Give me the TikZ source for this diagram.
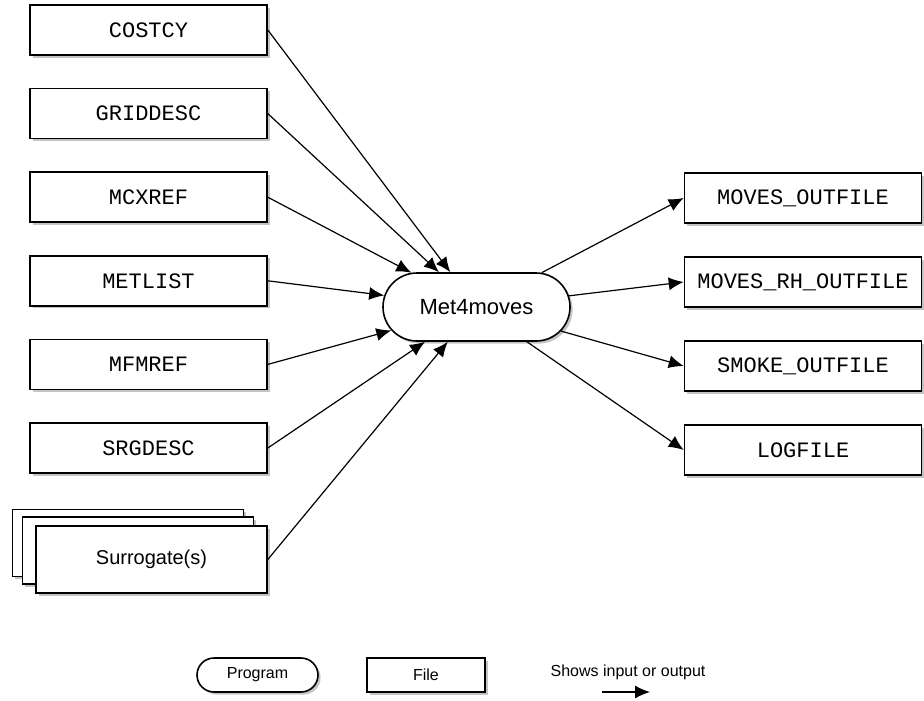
\documentclass[tikz,border=0pt]{standalone}
\usepackage{fontspec}
\setmainfont{Liberation Sans}
\setmonofont{Liberation Mono}
\usepackage{tikz}
\usetikzlibrary{arrows.meta,shapes.misc,shadows}
\usepackage{xcolor}
\definecolor{shadowgray}{RGB}{60,60,60}

\begin{document}
\begin{tikzpicture}[x=0.5pt,y=-0.5pt, >={Latex[length=7.5pt,width=6.5pt]}]
  \tikzstyle{boxshadow}=[drop shadow={shadow xshift=1.3pt, shadow yshift=-1.3pt, fill=shadowgray, opacity=0.3}]
  \tikzstyle{file}=[rectangle, draw, line width=0.8pt, fill=white, boxshadow, minimum width=118.5pt, minimum height=25pt, font=\ttfamily\fontsize{11}{13}\selectfont, inner sep=0pt]
  \tikzstyle{surr}=[file, minimum width=115.5pt, minimum height=33.5pt, font=\fontsize{10}{12}\selectfont]
  \tikzstyle{prog}=[rounded rectangle, draw, line width=0.8pt, fill=white, boxshadow, minimum width=93.5pt, minimum height=34pt, font=\fontsize{11}{13}\selectfont, inner sep=0pt]
  \tikzstyle{flow}=[->, line width=0.6pt]
  \useasboundingbox (0,0) rectangle (924,700);
  % inputs
  \node[file] (cost) at (148.5,30) {COSTCY};
  \node[file] (grid) at (148.5,113.6) {GRIDDESC};
  \node[file] (mcx) at (148.5,197.2) {MCXREF};
  \node[file] (met) at (148.5,280.8) {METLIST};
  \node[file] (mfm) at (148.5,364.4) {MFMREF};
  \node[file] (srg) at (148.5,448) {SRGDESC};
  \node[surr] (sur3) at (128,543) {};
  \node[surr] (sur2) at (138,550.5) {};
  \node[surr] (sur) at (151.5,559.5) {Surrogate(s)};
  % program
  \node[prog] (m4m) at (476.5,307) {Met4moves};
  % outputs
  \node[file] (mof) at (803,198) {MOVES\_OUTFILE};
  \node[file] (mrh) at (803,282) {MOVES\_RH\_OUTFILE};
  \node[file] (smk) at (803,366) {SMOKE\_OUTFILE};
  \node[file] (log) at (803,450) {LOGFILE};
  \draw[flow] (cost.east) -- (m4m);
  \draw[flow] (grid.east) -- (m4m);
  \draw[flow] (mcx.east) -- (m4m);
  \draw[flow] (met.east) -- (m4m);
  \draw[flow] (mfm.east) -- (m4m);
  \draw[flow] (srg.east) -- (m4m);
  \draw[flow] (sur.east) -- (m4m);
  \draw[flow] (m4m) -- (mof.west);
  \draw[flow] (m4m) -- (mrh.west);
  \draw[flow] (m4m) -- (smk.west);
  \draw[flow] (m4m) -- (log.west);
  % legend
  \node[prog, minimum width=60.5pt, minimum height=17pt, font=\fontsize{8}{10}\selectfont] (lprog) at (257.5,675) {Program};
  \node[file, minimum width=59pt, minimum height=17pt, font=\fontsize{8}{10}\selectfont] (lfile) at (426,675) {File};
  \node[font=\fontsize{8}{10}\selectfont] (lio) at (628,672) {Shows input or output};
  \coordinate (la) at (602,692);
  \coordinate (lb) at (650,692);
  \draw[flow] (la) -- (lb);
\end{tikzpicture}
\end{document}
